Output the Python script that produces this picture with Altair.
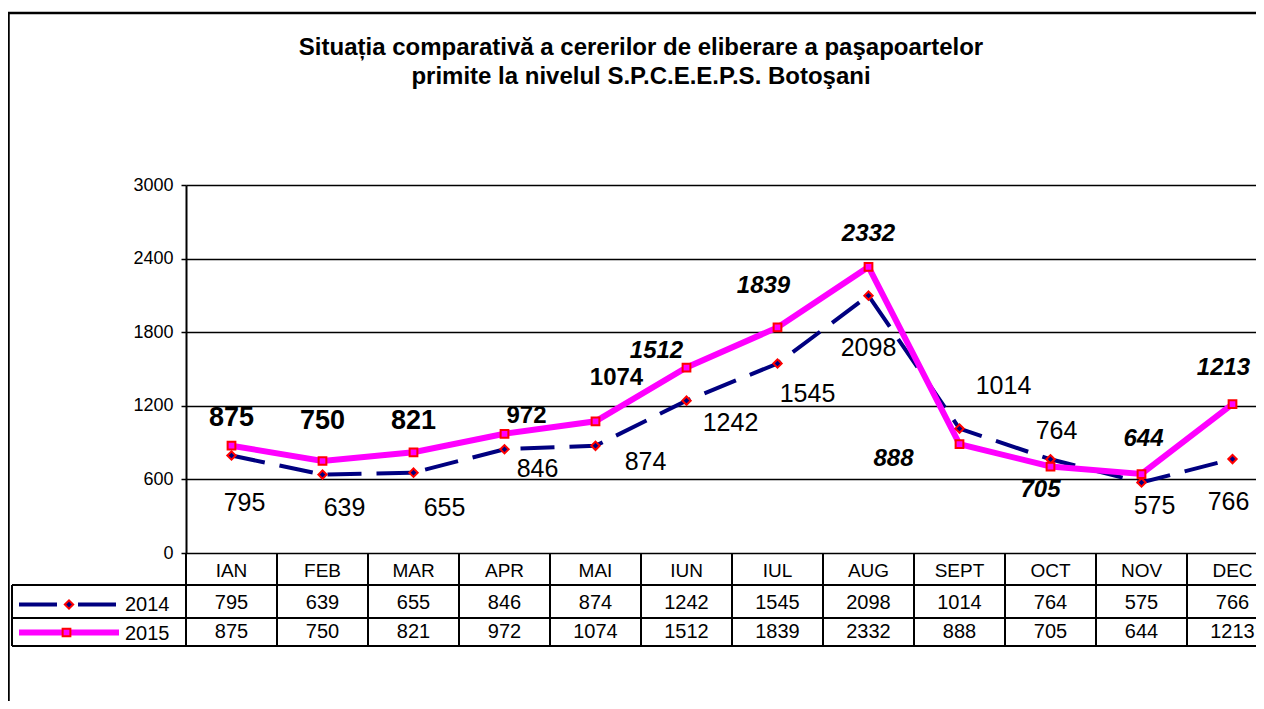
import altair as alt
import pandas as pd

# ---------------- data ----------------
months = ["IAN", "FEB", "MAR", "APR", "MAI", "IUN", "IUL", "AUG", "SEPT", "OCT", "NOV", "DEC"]
v2014 = [795, 639, 655, 846, 874, 1242, 1545, 2098, 1014, 764, 575, 766]
v2015 = [875, 750, 821, 972, 1074, 1512, 1839, 2332, 888, 705, 644, 1213]
series_names = ["2014", "2015"]
title_lines = [
    "Situația comparativă a cererilor de eliberare a paşapoartelor",
    "primite la nivelul S.P.C.E.E.P.S. Botoşani",
]
y_ticks = [0, 600, 1200, 1800, 2400, 3000]

# ---------------- styles (label placement in pixels, fonts) ----------------
off2015 = [(0, -28), (0, -40), (0, -31), (22, -18), (21, -43), (-30, -17),
           (-14, -41), (0, -33), (-66, 15), (-10, 23), (2, -35), (-9, -36)]
off2014 = [(13, 48), (22, 33), (31, 35), (33, 20), (50, 16), (44, 22),
           (30, 31), (0, 52), (44, -43), (6, -28), (13, 24), (-4, 43)]
FONT = "Liberation Sans"
NAVY = "#000080"
MAGENTA = "#FF00FF"
RED = "#FF0000"

df14 = pd.DataFrame({"idx": list(range(len(months))), "month": months, "value": v2014})
df15 = pd.DataFrame({"idx": list(range(len(months))), "month": months, "value": v2015})
bounds = pd.DataFrame({"b": [i - 0.5 for i in range(len(months) + 1)]})
one = pd.DataFrame({"a": [0]})

xscale = alt.Scale(domain=[-0.5, -0.5 + 1070 / 91], nice=False, zero=False)
X = alt.X("idx:Q", scale=xscale, axis=None)
yaxis = alt.Axis(values=y_ticks, grid=True, gridColor="black", gridWidth=1.6,
                 domainColor="black", domainWidth=2, tickColor="black", tickSize=5,
                 tickWidth=1.5, labelFont=FONT, labelFontSize=18, labelColor="black",
                 labelPadding=8, title=None, format="d")
Y = alt.Y("value:Q", scale=alt.Scale(domain=[0, 3000], nice=False), axis=yaxis)

layers = []

# lines
layers.append(alt.Chart(df14).mark_line(color=NAVY, strokeWidth=4, strokeDash=[34, 15])
              .encode(x=X, y=Y))
layers.append(alt.Chart(df15).mark_line(color=MAGENTA, strokeWidth=6)
              .encode(x=X, y=Y))
# markers
layers.append(alt.Chart(df14).mark_point(shape="diamond", size=70, filled=True, fill=NAVY,
                                         stroke=RED, strokeWidth=2, opacity=1)
              .encode(x=X, y=Y))
layers.append(alt.Chart(df15).mark_point(shape="square", size=60, filled=True, fill=MAGENTA,
                                         stroke=RED, strokeWidth=2, opacity=1)
              .encode(x=X, y=Y))

# point labels
for i in range(len(months)):
    r15 = df15.iloc[[i]]
    big = i < 3
    italic = i >= 5
    layers.append(alt.Chart(r15).mark_text(
        font=FONT, fontSize=27 if big else 24, fontWeight="bold",
        fontStyle="italic" if italic else "normal", color="black",
        dx=off2015[i][0], dy=off2015[i][1], align="center", baseline="middle")
        .encode(x=X, y=Y, text="value:Q"))
    r14 = df14.iloc[[i]]
    layers.append(alt.Chart(r14).mark_text(
        font=FONT, fontSize=25, color="black",
        dx=off2014[i][0], dy=off2014[i][1], align="center", baseline="middle")
        .encode(x=X, y=Y, text="value:Q"))

# ---------------- data table ----------------
layers.append(alt.Chart(bounds).mark_rule(color="black", strokeWidth=2)
              .encode(x=alt.X("b:Q", scale=xscale, axis=None),
                      y=alt.value(368), y2=alt.value(461)))
for yy in [400, 433, 461]:
    layers.append(alt.Chart(one).mark_rule(color="black", strokeWidth=2)
                  .encode(x=alt.value(-174), x2=alt.value(1100), y=alt.value(yy)))
layers.append(alt.Chart(one).mark_rule(color="black", strokeWidth=2)
              .encode(x=alt.value(-174), y=alt.value(400), y2=alt.value(461)))

layers.append(alt.Chart(df14).mark_text(font=FONT, fontSize=19, color="black",
                                        baseline="middle", align="center")
              .encode(x=X, y=alt.value(386), text="month:N"))
layers.append(alt.Chart(df14).mark_text(font=FONT, fontSize=20, color="black",
                                        baseline="middle", align="center")
              .encode(x=X, y=alt.value(418), text="value:Q"))
layers.append(alt.Chart(df15).mark_text(font=FONT, fontSize=20, color="black",
                                        baseline="middle", align="center")
              .encode(x=X, y=alt.value(447), text="value:Q"))

# legend keys inside the table
layers.append(alt.Chart(one).mark_rule(color=NAVY, strokeWidth=4, strokeDash=[38, 21])
              .encode(x=alt.value(-167), x2=alt.value(-70), y=alt.value(419.5)))
layers.append(alt.Chart(one).mark_point(shape="diamond", size=70, filled=True, fill=NAVY,
                                        stroke=RED, strokeWidth=2, opacity=1)
              .encode(x=alt.value(-117), y=alt.value(419.5)))
layers.append(alt.Chart(one).mark_rule(color=MAGENTA, strokeWidth=6)
              .encode(x=alt.value(-167), x2=alt.value(-67), y=alt.value(447.5)))
layers.append(alt.Chart(one).mark_point(shape="square", size=60, filled=True, fill=MAGENTA,
                                        stroke=RED, strokeWidth=2, opacity=1)
              .encode(x=alt.value(-119.5), y=alt.value(447.5)))
leg = pd.DataFrame({"name": series_names, "row": [0, 1]})
for k, yy in enumerate([419.5, 448.5]):
    layers.append(alt.Chart(leg.iloc[[k]]).mark_text(font=FONT, fontSize=20, color="black",
                                                     align="left", baseline="middle")
                  .encode(x=alt.value(-61), y=alt.value(yy), text="name:N"))

# ---------------- frame and title ----------------
layers.append(alt.Chart(one).mark_rule(color="black", strokeWidth=2.5)
              .encode(x=alt.value(-177.5), y=alt.value(-172), y2=alt.value(530)))
layers.append(alt.Chart(one).mark_rule(color="black", strokeWidth=2.5)
              .encode(x=alt.value(-178), x2=alt.value(1100), y=alt.value(-172)))
tdf = pd.DataFrame({"t": title_lines})
for k, yy in enumerate([-137, -108]):
    layers.append(alt.Chart(tdf.iloc[[k]]).mark_text(font=FONT, fontSize=24, fontWeight="bold",
                                                     color="black", align="center",
                                                     baseline="middle")
                  .encode(x=alt.value(455), y=alt.value(yy), text="t:N"))

chart = alt.layer(*layers).properties(
    width=1070, height=368,
    autosize=alt.AutoSizeParams(type="none"),
    padding={"left": 178, "top": 177, "right": 0, "bottom": 148},
).configure_view(stroke="transparent")

chart.save("out.html", embed_options={"renderer": "svg", "actions": False})
